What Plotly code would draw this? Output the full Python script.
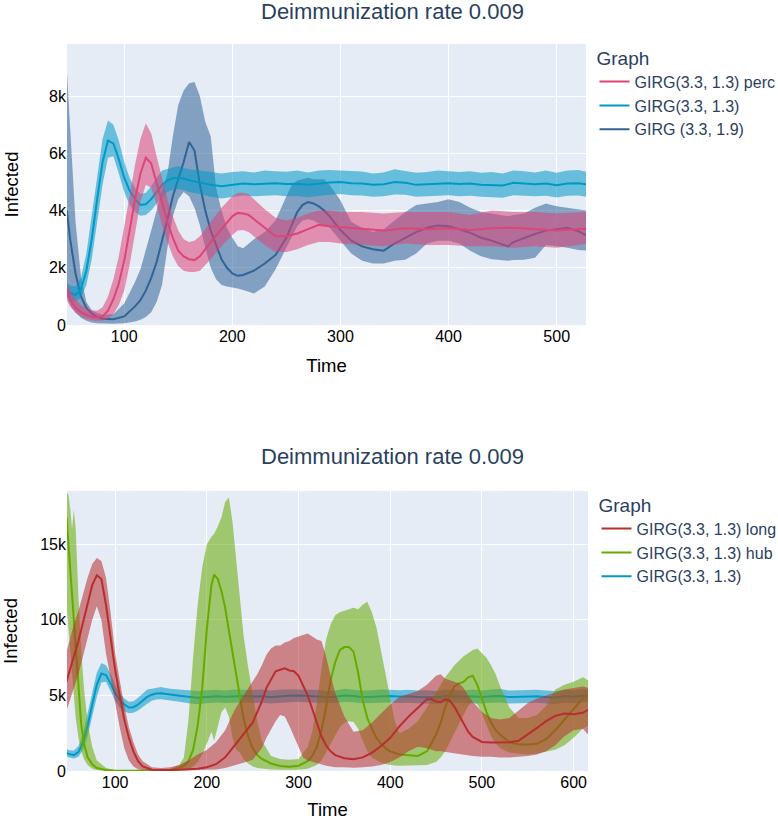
import plotly.graph_objects as go

# ---------------- Top chart data ----------------
# GIRG (3.3, 1.9)
d_t = [47, 50, 55, 60, 65, 70, 75, 80, 90, 100, 110, 115, 120, 125, 130, 135, 140, 145, 150, 155,
       160, 165, 170, 175, 180, 185, 190, 195, 200, 205, 210, 220, 230, 240, 250, 255, 260, 265, 270, 275,
       280, 285, 290, 300, 310, 320, 330, 340, 350, 360, 370, 380, 390, 400, 410, 420, 430, 440, 450, 455,
       460, 470, 480, 490, 500, 510, 520, 528]
d_mean = [4000, 3000, 1800, 1000, 600, 400, 280, 220, 200, 300, 650, 870, 1200, 1650, 2200, 2900, 3700, 4500, 5100, 5700,
          6400, 6100, 4900, 4000, 3300, 2800, 2300, 2000, 1800, 1720, 1750, 1900, 2150, 2450, 3050, 3500, 3950, 4200, 4300, 4250,
          4150, 4000, 3800, 3320, 2950, 2750, 2650, 2600, 2850, 3050, 3250, 3400, 3480, 3450, 3350, 3220, 3050, 2950, 2800, 2750,
          2900, 3050, 3180, 3300, 3350, 3400, 3280, 3120]
d_up = [8900, 7000, 3600, 1700, 800, 520, 420, 360, 380, 750, 1500, 1950, 2600, 3300, 4000, 4700, 5300, 6600, 7700, 8200,
        8450, 8500, 8000, 7100, 6600, 4800, 4000, 3400, 3050, 2750, 2680, 3000, 3250, 3650, 4500, 4900, 5050, 5100, 5150, 5100,
        5100, 5100, 4900, 4350, 3600, 3400, 3250, 3350, 3650, 3950, 4200, 4250, 4300, 4400, 4300, 4100, 3950, 3900, 3850, 3800,
        3850, 3900, 4100, 4250, 4150, 4100, 4050, 4000]
d_lo = [1000, 700, 450, 250, 150, 90, 60, 50, 40, 60, 120, 180, 280, 450, 800, 1400, 2700, 3800, 4400, 4650,
        4500, 4100, 3500, 2700, 2000, 1600, 1400, 1350, 1320, 1280, 1220, 1100, 1350, 1950, 2700, 3100, 3450, 3650, 3700, 3650,
        3550, 3500, 3400, 2950, 2500, 2250, 2150, 2150, 2250, 2280, 2500, 2850, 2950, 2950, 2850, 2600, 2400, 2300, 2250, 2250,
        2270, 2280, 2350, 2800, 2750, 2700, 2620, 2600]

# GIRG(3.3, 1.3) perc
p_t = [47, 50, 55, 60, 65, 70, 75, 80, 85, 90, 95, 100, 105, 110, 115, 120, 125, 130, 135, 140,
       145, 150, 155, 160, 165, 170, 175, 180, 190, 200, 205, 210, 215, 220, 230, 240, 250, 260, 270, 280,
       290, 300, 320, 340, 360, 380, 400, 420, 440, 460, 480, 500, 520, 528]
p_mean = [1250, 900, 600, 450, 350, 290, 270, 300, 500, 900, 1450, 2250, 3300, 4400, 5300, 5850, 5650, 4950, 4200, 3600,
          3050, 2600, 2400, 2300, 2270, 2400, 2650, 2900, 3350, 3800, 3920, 3900, 3850, 3700, 3400, 3100, 3100, 3200, 3350, 3500,
          3450, 3420, 3380, 3300, 3380, 3350, 3380, 3320, 3380, 3400, 3350, 3300, 3360, 3360]
p_up = [1500, 1200, 900, 700, 580, 520, 500, 620, 1000, 1600, 2400, 3400, 4500, 5600, 6500, 7050, 6700, 5900, 5100, 4400,
        3800, 3300, 3000, 2900, 2950, 3100, 3350, 3600, 4100, 4500, 4620, 4620, 4580, 4400, 4050, 3750, 3650, 3750, 3900, 4000,
        4000, 3950, 3950, 3900, 3950, 3950, 3950, 3850, 4000, 3950, 3950, 3900, 3950, 3950]
p_lo = [870, 650, 420, 300, 220, 170, 150, 160, 220, 380, 700, 1200, 2100, 3200, 4300, 4900, 4800, 4200, 3500, 2900,
        2400, 2050, 1900, 1850, 1850, 1900, 2100, 2300, 2750, 3150, 3300, 3320, 3250, 3100, 2800, 2550, 2550, 2650, 2800, 2900,
        2900, 2850, 2800, 2750, 2850, 2800, 2800, 2750, 2750, 2700, 2750, 2700, 2800, 2850]

# GIRG(3.3, 1.3)  (shared by both charts)
c_t = [47, 50, 55, 60, 65, 70, 75, 80, 85, 90, 95, 100, 105, 110, 115, 120, 125, 130, 135, 140,
       145, 150, 155, 160, 170, 180, 190, 200, 210, 220, 230, 240, 250, 260, 270, 280, 290, 300, 310, 320,
       330, 340, 350, 360, 370, 380, 390, 400, 410, 420, 430, 440, 450, 460, 470, 480, 490, 500, 510, 520,
       530, 540, 550, 560, 570, 580, 590, 600, 610, 616]
c_mean = [1200, 1120, 1050, 1250, 1900, 3000, 4400, 5700, 6450, 6350, 5800, 5150, 4700, 4400, 4200, 4220, 4400, 4650, 4900, 5050,
          5130, 5150, 5120, 5060, 4980, 4900, 4850, 4900, 4950, 4920, 4950, 4960, 4930, 4940, 4900, 4950, 4980, 5000, 4960, 4950,
          4900, 4920, 5000, 4970, 4900, 4920, 4950, 4960, 4930, 4950, 4900, 4900, 4880, 4970, 4950, 4920, 4950, 4890, 4950, 4960,
          4900, 4920, 4970, 4950, 4900, 4870, 4950, 4920, 4980, 4960]
c_up = [1450, 1380, 1350, 1650, 2500, 3800, 5200, 6500, 7150, 7000, 6450, 5700, 5150, 4800, 4580, 4620, 4850, 5150, 5400, 5450,
        5520, 5560, 5500, 5450, 5400, 5350, 5300, 5350, 5380, 5330, 5400, 5380, 5360, 5400, 5330, 5400, 5420, 5400, 5380, 5370,
        5300, 5330, 5450, 5380, 5320, 5350, 5400, 5380, 5350, 5380, 5320, 5350, 5300, 5400, 5380, 5330, 5400, 5320, 5400, 5420,
        5330, 5350, 5400, 5380, 5330, 5300, 5370, 5350, 5420, 5400]
c_lo = [1000, 900, 820, 950, 1400, 2300, 3600, 4900, 5850, 5900, 5300, 4650, 4200, 3950, 3820, 3850, 4000, 4250, 4450, 4650,
        4730, 4750, 4720, 4650, 4580, 4480, 4420, 4480, 4530, 4500, 4520, 4540, 4500, 4510, 4470, 4520, 4550, 4580, 4540, 4530,
        4480, 4500, 4560, 4550, 4480, 4500, 4520, 4540, 4500, 4520, 4480, 4460, 4450, 4540, 4520, 4500, 4520, 4460, 4520, 4530,
        4470, 4480, 4540, 4520, 4470, 4440, 4520, 4490, 4550, 4530]

# ---------------- Bottom chart data ----------------
# GIRG(3.3, 1.3) long
r_t = [47, 50, 55, 60, 65, 70, 75, 80, 85, 90, 95, 100, 105, 110, 115, 120, 125, 130, 140, 150,
       160, 170, 180, 190, 200, 210, 220, 230, 240, 250, 255, 260, 265, 270, 275, 280, 285, 290, 295, 300,
       305, 310, 315, 320, 325, 330, 335, 340, 350, 360, 370, 380, 390, 400, 410, 420, 430, 440, 445, 450,
       455, 460, 465, 470, 475, 480, 485, 490, 500, 510, 520, 530, 540, 550, 560, 570, 580, 590, 600, 610, 616]
r_mean = [5900, 6600, 7600, 8600, 9900, 11200, 12300, 12950, 12700, 11000, 8700, 6700, 5000, 3400, 2200, 1280, 650, 300, 90, 60,
          60, 80, 120, 150, 250, 450, 900, 1650, 2400, 3200, 3900, 4600, 5500, 6100, 6600, 6700, 6800, 6650, 6600, 6300,
          5700, 5000, 4100, 3150, 2300, 1700, 1300, 1050, 850, 780, 900, 1200, 1650, 2200, 2950, 3600, 4200, 4750, 4750, 4600,
          4550, 4750, 4650, 4250, 3700, 3150, 2600, 2250, 1920, 1880, 1900, 1900, 2000, 2400, 2850, 3300, 3650, 3800, 3750, 3850, 4050]
r_up = [7900, 8600, 9700, 10600, 11700, 12800, 13700, 14100, 13900, 12800, 10500, 7800, 6000, 4300, 2900, 1900, 1100, 650, 250, 200,
        250, 400, 700, 1100, 1400, 1900, 2700, 4000, 5000, 5900, 6400, 7000, 7700, 8100, 8300, 8300, 8500, 8600, 8800, 8900,
        9000, 9100, 8900, 8700, 8600, 7600, 6300, 5200, 3600, 2600, 2700, 3200, 3800, 4400, 4900, 5100, 5300, 5700, 6000, 6300,
        6400, 6100, 6000, 5900, 5800, 5500, 5000, 4600, 3900, 3500, 3400, 3500, 4000, 4500, 4800, 5000, 5200, 5400, 5500, 5600, 5500]
r_lo = [4000, 4600, 5500, 6400, 7600, 8700, 10000, 10900, 10000, 7800, 6100, 4500, 2900, 1500, 700, 300, 120, 60, 20, 10,
        10, 20, 30, 40, 60, 100, 200, 350, 550, 750, 1100, 1500, 2200, 2800, 3300, 3700, 3600, 3000, 2300, 1500,
        900, 700, 600, 500, 400, 350, 300, 250, 250, 220, 250, 300, 400, 600, 900, 1300, 1600, 1500, 1400, 1300,
        1300, 1250, 1250, 1200, 1150, 1100, 1050, 1000, 950, 950, 900, 900, 950, 1000, 1100, 1300, 1700, 2300, 2700, 2800, 2400]

# GIRG(3.3, 1.3) hub
g_t = [47, 49, 51, 53, 55, 57, 60, 63, 66, 70, 75, 80, 90, 100, 120, 140, 160, 170, 175, 180,
       185, 190, 195, 200, 205, 208, 212, 216, 220, 224, 228, 232, 236, 240, 245, 250, 255, 260, 270, 280,
       290, 300, 310, 315, 320, 325, 330, 335, 340, 345, 350, 355, 360, 365, 370, 375, 380, 385, 390, 395,
       400, 405, 410, 420, 430, 440, 450, 455, 460, 465, 470, 475, 480, 485, 490, 495, 500, 505, 510, 515,
       520, 530, 540, 550, 560, 570, 580, 590, 600, 610, 616]
g_mean = [16800, 15000, 13300, 11500, 9600, 7900, 5200, 3100, 1800, 900, 450, 200, 60, 20, 10, 15, 60, 200, 350, 650,
          1400, 3000, 5500, 9400, 12300, 13000, 12700, 11900, 10800, 9300, 7800, 6300, 4700, 3500, 2300, 1500, 1050, 800, 500, 330,
          280, 350, 650, 1000, 1600, 2700, 4200, 6000, 7200, 8000, 8200, 8200, 7900, 6500, 4700, 3500, 2800, 2200, 1800, 1500,
          1300, 1200, 1100, 1050, 1000, 1300, 2400, 3200, 4200, 5000, 5600, 5800, 5900, 6200, 6300, 5700, 4800, 3900, 3200, 2700,
          2400, 1900, 1750, 1750, 1800, 2100, 2700, 3400, 4100, 4800, 5100]
g_up = [18400, 18300, 17400, 16000, 17300, 16000, 11500, 8000, 5500, 3200, 1600, 700, 200, 60, 30, 60, 150, 400, 900, 3400,
        7500, 11000, 13500, 15000, 15500, 15700, 16200, 16800, 17800, 18100, 16500, 14000, 11100, 9000, 6900, 5000, 3300, 2000, 1000, 800,
        750, 800, 1600, 2600, 4500, 6800, 8700, 9700, 10300, 10500, 10600, 10700, 10800, 10700, 11000, 11200, 10500, 9500, 8000, 6300,
        4800, 3300, 2500, 2800, 3300, 4200, 5200, 5700, 6200, 6600, 7000, 7300, 7600, 7800, 8000, 8100, 7800, 7500, 7000, 6400,
        5600, 4200, 3500, 3500, 3700, 4300, 5400, 5700, 5900, 6200, 6000]
g_lo = [11000, 9500, 8000, 6500, 4800, 3500, 2200, 1300, 800, 400, 150, 60, 10, 0, 0, 0, 10, 40, 80, 150,
        300, 600, 1100, 1800, 2600, 2000, 3000, 3900, 4200, 3600, 2200, 1400, 1200, 800, 500, 300, 200, 150, 100, 80,
        60, 80, 150, 250, 400, 700, 1200, 1800, 2400, 2900, 3200, 3300, 3250, 2800, 2000, 1300, 900, 700, 550, 450,
        400, 370, 350, 350, 350, 400, 600, 900, 1300, 1900, 2500, 3200, 3800, 4300, 4600, 4400, 3800, 3000, 2300, 1800,
        1500, 1200, 1150, 1100, 1150, 1250, 1400, 1700, 2200, 2800, 3000]

TITLE = "Deimmunization rate 0.009"
FONT = "Liberation Sans, Arial, sans-serif"

COLORS = {
    "perc": "#DD4477",
    "base": "#0099C6",
    "g19": "#316395",
    "long": "#B82E2E",
    "hub": "#66AA00",
}


def rgba(hexc, a):
    h = hexc.lstrip("#")
    r, g, b = int(h[0:2], 16), int(h[2:4], 16), int(h[4:6], 16)
    return f"rgba({r},{g},{b},{a})"


fig = go.Figure()


def add_series(t, mean, lo, up, color, name, xa, ya, legend):
    fig.add_trace(go.Scatter(x=t, y=lo, mode="lines", line=dict(width=0, color=color),
                             showlegend=False, hoverinfo="skip", xaxis=xa, yaxis=ya))
    fig.add_trace(go.Scatter(x=t, y=up, mode="lines", line=dict(width=0, color=color),
                             fill="tonexty", fillcolor=rgba(color, 0.55),
                             showlegend=False, hoverinfo="skip", xaxis=xa, yaxis=ya))
    fig.add_trace(go.Scatter(x=t, y=mean, mode="lines", line=dict(width=2, color=color),
                             name=name, legendgroup=name + ya, legend=legend,
                             xaxis=xa, yaxis=ya))


# top (draw order reversed vs legend)
add_series(d_t, d_mean, d_lo, d_up, COLORS["g19"], "GIRG (3.3, 1.9)", "x", "y", "legend")
add_series(c_t, c_mean, c_lo, c_up, COLORS["base"], "GIRG(3.3, 1.3)", "x", "y", "legend")
add_series(p_t, p_mean, p_lo, p_up, COLORS["perc"], "GIRG(3.3, 1.3) perc", "x", "y", "legend")
# bottom
add_series(c_t, c_mean, c_lo, c_up, COLORS["base"], "GIRG(3.3, 1.3)", "x2", "y2", "legend2")
add_series(g_t, g_mean, g_lo, g_up, COLORS["hub"], "GIRG(3.3, 1.3) hub", "x2", "y2", "legend2")
add_series(r_t, r_mean, r_lo, r_up, COLORS["long"], "GIRG(3.3, 1.3) long", "x2", "y2", "legend2")

W, H = 778, 820
ML, MR, MT, MB = 67, 190, 44, 49
PW = W - ML - MR
PH = H - MT - MB


def py(pix):
    return (H - MB - pix) / PH


def px_(pix):
    return (pix - ML) / PW


axis_common = dict(
    tickfont=dict(size=16, color="black", family=FONT),
    gridcolor="white", zeroline=False, showline=False, automargin=False,
)
xtitle = dict(text="Time", font=dict(size=18.5, color="black"))
ytitle = dict(text="Infected", font=dict(size=18.5, color="black"), standoff=25)

fig.update_layout(
    width=W, height=H,
    margin=dict(l=ML, r=MR, t=MT, b=MB, autoexpand=False),
    template="plotly",
    font=dict(family=FONT, color="#2a3f5f"),
    plot_bgcolor="#E5ECF6",
    paper_bgcolor="white",
    xaxis=dict(domain=[0, px_(586)], range=[47.1, 527.1], dtick=100, anchor="y",
               title=xtitle, **axis_common),
    yaxis=dict(domain=[py(325), 1], range=[0, 9825], dtick=2000, anchor="x",
               title=ytitle, **axis_common),
    xaxis2=dict(domain=[0, 1], range=[47.5, 615.7], dtick=100, anchor="y2",
                title=xtitle, **axis_common),
    yaxis2=dict(domain=[0, py(491)], range=[0, 18530], dtick=5000, anchor="x2",
                title=ytitle, **axis_common),
    legend=dict(xref="container", yref="container", x=594.5 / W, y=1 - 40 / H,
                xanchor="left", yanchor="top", traceorder="reversed",
                title=dict(text="Graph"), font=dict(size=16, color="#2a3f5f")),
    legend2=dict(xref="container", yref="container", x=596.5 / W, y=1 - 487 / H,
                 xanchor="left", yanchor="top", traceorder="reversed",
                 title=dict(text="Graph"), font=dict(size=16, color="#2a3f5f")),
    annotations=[
        dict(text=TITLE, x=px_(392.5), y=py(12), xref="paper", yref="paper",
             xanchor="center", yanchor="middle", showarrow=False,
             font=dict(size=22, color="#2a3f5f", family=FONT)),
        dict(text=TITLE, x=px_(392.5), y=py(456), xref="paper", yref="paper",
             xanchor="center", yanchor="middle", showarrow=False,
             font=dict(size=22, color="#2a3f5f", family=FONT)),
    ],
)

fig.write_html("out.html", config={"displayModeBar": False},
               post_script="document.body.style.margin='0px';")
